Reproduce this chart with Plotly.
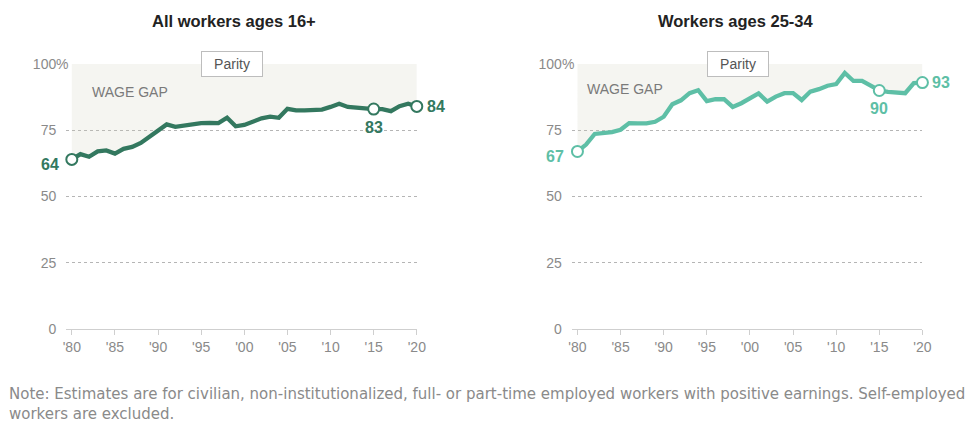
import plotly.graph_objects as go

years = list(range(1980, 2021))
all_workers = [64, 66, 65, 67, 67.4, 66.2, 68, 68.7, 70.2, 72.4, 75,
               77.2, 76.3, 76.9, 77.4, 77.7, 77.8, 77.7, 79.7, 76.5, 77,
               78.2, 79.5, 80.1, 79.7, 83.1, 82.5, 82.5, 82.5, 82.8, 83.8,
               85, 83.8, 83.4, 83.3, 83, 83, 82.2, 84.1, 85, 84]
young_workers = [67, 69.6, 73.6, 74, 74.3, 75.2, 77.7, 77.6, 77.6, 78.2, 80.1,
                 84.8, 86.3, 89, 90.1, 86, 86.7, 86.7, 83.8, 85.2, 86.9,
                 88.9, 85.8, 87.7, 89, 89, 86.4, 89.6, 90.5, 91.8, 92.4,
                 96.6, 93.6, 93.6, 91.8, 90, 89.5, 89.2, 89, 92.8, 93]
panel_titles = ["All workers ages 16+", "Workers ages 25-34"]
line_colors = ["#33785f", "#5ebfa6"]
y_ticks = [0, 25, 50, 75, 100]
y_ticktext = ["0", "25", "50", "75", "100"]
x_ticks = list(range(1980, 2021, 5))
x_ticktext = ["'80", "'85", "'90", "'95", "'00", "'05", "'10", "'15", "'20"]
labelled = [(1980, "left"), (2015, "below"), (2020, "right")]
note = ("Note: Estimates are for civilian, non-institutionalized, full- or part-time employed workers "
        "with positive earnings. Self-employed<br>workers are excluded.")

W, H = 966, 424
PLOT_TOP, PLOT_BOT = 64, 329
PH = PLOT_BOT - PLOT_TOP


def px_x(p):
    return p / W


def px_y(p):
    return (PLOT_BOT - p) / PH


domains = [(px_x(64), px_x(419)), (px_x(576), px_x(931))]
title_x = [px_x(234), px_x(742)]
font_fam = "Liberation Sans, Arial, sans-serif"
grey = "#8a8a8a"

fig = go.Figure()
annotations = []
series = [all_workers, young_workers]
for i, vals in enumerate(series):
    xa = "x" if i == 0 else "x2"
    ya = "y" if i == 0 else "y2"
    col = line_colors[i]
    fig.add_trace(go.Scatter(x=years, y=[100] * len(years), mode="lines",
                             line=dict(width=0, color="rgba(0,0,0,0)"),
                             hoverinfo="skip", showlegend=False, xaxis=xa, yaxis=ya))
    fig.add_trace(go.Scatter(x=years, y=vals, mode="lines", fill="tonexty",
                             fillcolor="rgba(205,205,185,0.2)",
                             line=dict(color=col, width=4.3),
                             showlegend=False, xaxis=xa, yaxis=ya, cliponaxis=False))
    mx = [yr for yr, _ in labelled]
    my = [vals[years.index(yr)] for yr in mx]
    fig.add_trace(go.Scatter(x=mx, y=my, mode="markers",
                             marker=dict(size=11, color="white", line=dict(color=col, width=2)),
                             showlegend=False, xaxis=xa, yaxis=ya, cliponaxis=False))
    for yr, pos in labelled:
        v = vals[years.index(yr)]
        txt = str(round(v))
        a = dict(x=yr, y=v, xref=xa, yref=ya, text=txt, showarrow=False,
                 font=dict(family=font_fam, size=16, color=col, weight="bold"))
        if pos == "left":
            a.update(xanchor="right", xshift=-11, yshift=-5)
        elif pos == "right":
            a.update(xanchor="left", xshift=8, yshift=0)
        else:
            a.update(xanchor="center", yshift=-18)
        annotations.append(a)
    # Parity box
    annotations.append(dict(x=1998.6, y=100, xref=xa, yref=ya, text="Parity", showarrow=False,
                            font=dict(family=font_fam, size=14, color="#555"),
                            bgcolor="white", bordercolor="#bdbdbd", borderwidth=1,
                            borderpad=3, width=54, height=18))
    # Wage gap text
    annotations.append(dict(x=1982.1 if i == 0 else 1980.9, y=89.4 if i == 0 else 90.5,
                            xref=xa, yref=ya, text="WAGE GAP", showarrow=False,
                            xanchor="left", font=dict(family=font_fam, size=14, color="#7a7a7a")))
    # percent sign
    annotations.append(dict(x=domains[i][0] - 12 / W, y=100, xref="paper", yref=ya, text="%",
                            showarrow=False, xanchor="left",
                            font=dict(family=font_fam, size=14, color=grey)))
    # title
    annotations.append(dict(x=title_x[i], y=px_y(21), xref="paper", yref="paper",
                            text=panel_titles[i], showarrow=False, xanchor="center",
                            yanchor="middle",
                            font=dict(family=font_fam, size=16.5, color="#222", weight="bold")))

annotations.append(dict(x=px_x(4), y=px_y(404), xref="paper", yref="paper", text=note,
                        showarrow=False, xanchor="left", yanchor="middle", align="left",
                        font=dict(family="DejaVu Sans, sans-serif", size=15, color="#8a8a8a")))

axis_common_x = dict(range=[1979.35, 2020], tickvals=x_ticks, ticktext=x_ticktext,
                     showgrid=False, zeroline=False, showline=True, linecolor="#cfcfcf",
                     linewidth=1, ticks="outside", ticklen=5, tickcolor="#cfcfcf",
                     tickfont=dict(family=font_fam, size=14, color=grey), fixedrange=True)
axis_common_y = dict(range=[0, 100], tickvals=y_ticks, ticktext=y_ticktext,
                     showgrid=True, gridcolor="#b5b5b5", griddash="dot", gridwidth=1,
                     zeroline=False, showline=False, ticks="", ticklabelstandoff=9,
                     tickfont=dict(family=font_fam, size=14, color=grey), fixedrange=True)

fig.update_layout(
    width=W, height=H,
    margin=dict(l=0, r=0, t=PLOT_TOP, b=H - PLOT_BOT),
    paper_bgcolor="white", plot_bgcolor="white",
    xaxis=dict(domain=list(domains[0]), anchor="y", **axis_common_x),
    xaxis2=dict(domain=list(domains[1]), anchor="y2", **axis_common_x),
    yaxis=dict(anchor="x", **axis_common_y),
    yaxis2=dict(anchor="x2", **axis_common_y),
    annotations=annotations,
    showlegend=False,
)

fig.write_html("out.html", config={"displayModeBar": False},
               post_script="document.body.style.margin='0';document.body.style.overflow='hidden';")
